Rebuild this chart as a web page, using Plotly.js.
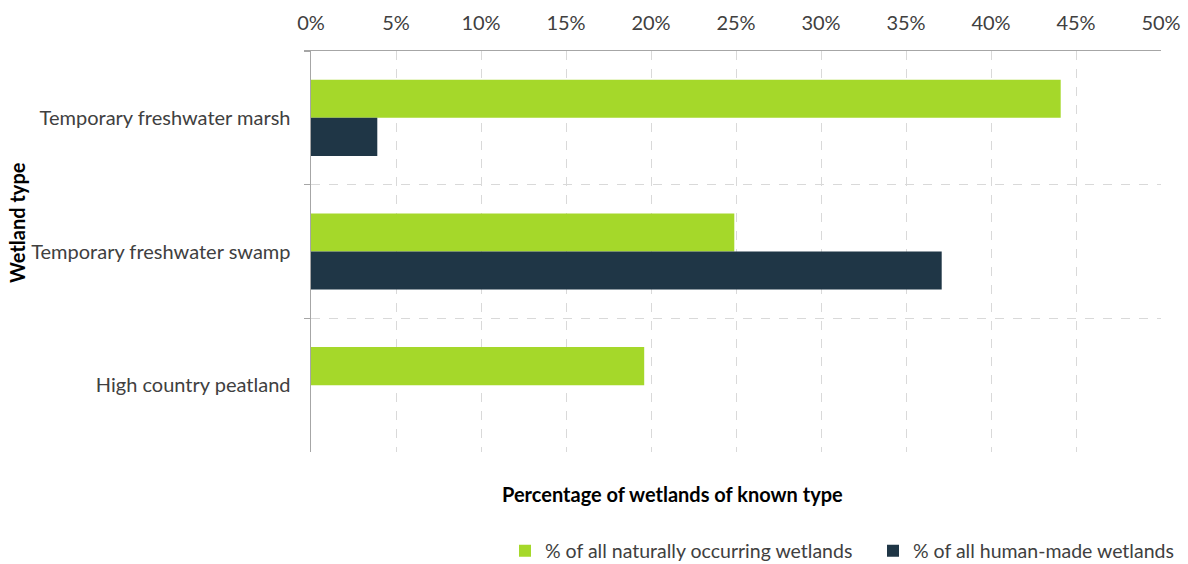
<!DOCTYPE html>
<html>
<head>
<meta charset="utf-8">
<script src="https://cdn.plot.ly/plotly-3.0.1.min.js"></script>
<style>html,body{margin:0;padding:0;background:#fff;}#chart{width:1188px;height:564px;}</style>
</head>
<body>
<div id="chart"></div>
<script>
const categories = ["Temporary freshwater marsh", "Temporary freshwater swamp", "High country peatland"];
const naturalPct = [44.1, 24.9, 19.6];
const humanPct = [3.9, 37.1, 0];
const seriesNames = ["% of all naturally occurring wetlands", "% of all human-made wetlands"];
const xTitle = "Percentage of wetlands of known type";
const yTitle = "Wetland type";

const FONT = "Lato, 'Open Sans', sans-serif";
const traces = [
  {type: "bar", orientation: "h", name: seriesNames[0], y: categories, x: naturalPct,
   marker: {color: "#a5d82a", line: {width: 0}}, legend: "legend"},
  {type: "bar", orientation: "h", name: seriesNames[1], y: categories, x: humanPct,
   marker: {color: "#1f3646", line: {width: 0}}, legend: "legend2"}
];
const legendCommon = {orientation: "h", xref: "container", yref: "container", yanchor: "middle",
  xanchor: "left", font: {size: 19.5, color: "#404040"}, itemwidth: 30, bgcolor: "rgba(0,0,0,0)"};
const layout = {
  width: 1188, height: 564,
  margin: {l: 311, r: 27, t: 51, b: 112},
  paper_bgcolor: "#fff", plot_bgcolor: "#fff",
  font: {family: FONT, size: 20, color: "#404040"},
  barmode: "group", bargap: 0.43, bargroupgap: 0,
  xaxis: {
    side: "top", range: [0, 50], dtick: 5, tick0: 0, ticksuffix: "%",
    showgrid: true, gridcolor: "#d9d9d9", griddash: "dash", gridwidth: 1,
    showline: true, linecolor: "#a6a6a6", linewidth: 1.5, zeroline: false,
    ticks: "", ticklabelstandoff: 12, tickfont: {size: 20, color: "#404040"}, fixedrange: true
  },
  yaxis: {
    autorange: "reversed", type: "category", tickson: "boundaries",
    showgrid: true, gridcolor: "#d9d9d9", griddash: "dash", gridwidth: 1,
    showline: true, linecolor: "#a6a6a6", linewidth: 1.5,
    ticks: "outside", ticklen: 6, tickcolor: "#a6a6a6", tickwidth: 1.5,
    ticklabelstandoff: 15, tickfont: {size: 20, color: "#404040"}, fixedrange: true
  },
  showlegend: true,
  legend: Object.assign({}, legendCommon, {x: 505/1188, y: 1 - 551/564}),
  legend2: Object.assign({}, legendCommon, {x: 873/1188, y: 1 - 551/564}),
  annotations: [
    {text: "<b>" + xTitle + "</b>", xref: "paper", yref: "paper", x: (672-311)/850, y: (452-494)/401,
     xanchor: "center", yanchor: "middle", showarrow: false, font: {size: 20, color: "#000"}},
    {text: "<b>" + yTitle + "</b>", xref: "paper", yref: "paper", x: (17-311)/850, y: (452-223)/401,
     xanchor: "center", yanchor: "middle", textangle: -90, showarrow: false, font: {size: 20, color: "#000"}}
  ]
};
Plotly.newPlot("chart", traces, layout, {displayModeBar: false, staticPlot: true});
</script>
</body>
</html>
